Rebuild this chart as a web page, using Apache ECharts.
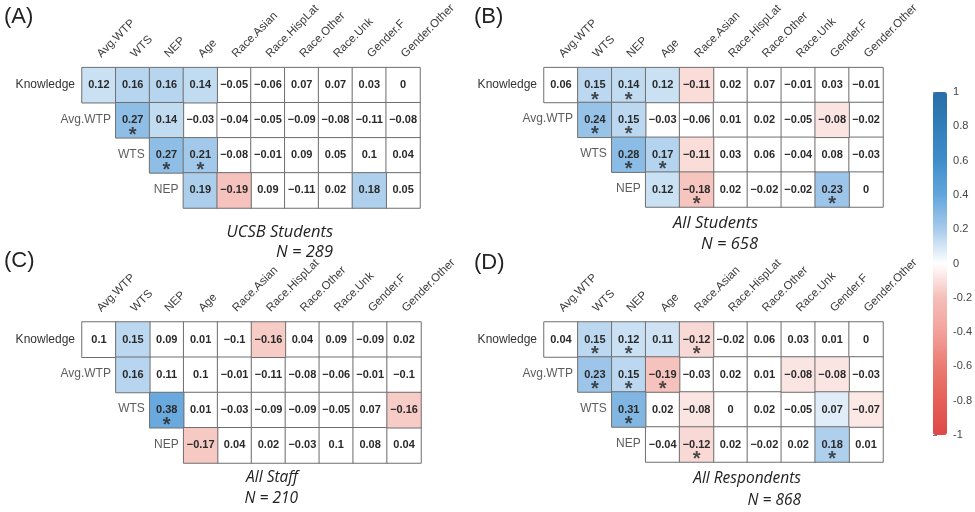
<!DOCTYPE html>
<html><head><meta charset="utf-8">
<script src="https://cdn.jsdelivr.net/npm/echarts@6/dist/echarts.min.js"></script>
<style>html,body{margin:0;padding:0;background:#fff}#c{width:975px;height:512px}</style>
</head><body><div id="c"></div>
<script>
// ---------- data ----------
const rowNames = ['Knowledge', 'Avg.WTP', 'WTS', 'NEP'];
const colNames = ['Avg.WTP', 'WTS', 'NEP', 'Age', 'Race.Asian', 'Race.HispLat', 'Race.Other', 'Race.Unk', 'Gender.F', 'Gender.Other'];
const colorbarTicks = [-1, -0.8, -0.6, -0.4, -0.2, 0, 0.2, 0.4, 0.6, 0.8, 1];

const panelLetters = ['(A)', '(B)', '(C)', '(D)'];
const groupNames = ['UCSB Students', 'All Students', 'All Staff', 'All Respondents'];
const groupSizes = [289, 658, 210, 868];

const valuesA = [
  [0.12, 0.16, 0.16, 0.14, -0.05, -0.06, 0.07, 0.07, 0.03, 0],
  [null, 0.27, 0.14, -0.03, -0.04, -0.05, -0.09, -0.08, -0.11, -0.08],
  [null, null, 0.27, 0.21, -0.08, -0.01, 0.09, 0.05, 0.1, 0.04],
  [null, null, null, 0.19, -0.19, 0.09, -0.11, 0.02, 0.18, 0.05]
];
const shadedA = [[0,0],[0,1],[0,2],[0,3],[1,1],[1,2],[2,2],[2,3],[3,3],[3,4],[3,8]];
const starsA = [[1,1],[2,2],[2,3]];

const valuesB = [
  [0.06, 0.15, 0.14, 0.12, -0.11, 0.02, 0.07, -0.01, 0.03, -0.01],
  [null, 0.24, 0.15, -0.03, -0.06, 0.01, 0.02, -0.05, -0.08, -0.02],
  [null, null, 0.28, 0.17, -0.11, 0.03, 0.06, -0.04, 0.08, -0.03],
  [null, null, null, 0.12, -0.18, 0.02, -0.02, -0.02, 0.23, 0]
];
const shadedB = [[0,1],[0,2],[0,3],[0,4],[1,1],[1,2],[1,8],[2,2],[2,3],[2,4],[3,3],[3,4],[3,8]];
const starsB = [[0,1],[0,2],[1,1],[1,2],[2,2],[2,3],[3,4],[3,8]];

const valuesC = [
  [0.1, 0.15, 0.09, 0.01, -0.1, -0.16, 0.04, 0.09, -0.09, 0.02],
  [null, 0.16, 0.11, 0.1, -0.01, -0.11, -0.08, -0.06, -0.01, -0.1],
  [null, null, 0.38, 0.01, -0.03, -0.09, -0.09, -0.05, 0.07, -0.16],
  [null, null, null, -0.17, 0.04, 0.02, -0.03, 0.1, 0.08, 0.04]
];
const shadedC = [[0,1],[0,5],[1,1],[2,2],[2,9],[3,3]];
const starsC = [[2,2]];

const valuesD = [
  [0.04, 0.15, 0.12, 0.11, -0.12, -0.02, 0.06, 0.03, 0.01, 0],
  [null, 0.23, 0.15, -0.19, -0.03, 0.02, 0.01, -0.08, -0.08, -0.03],
  [null, null, 0.31, 0.02, -0.08, 0, 0.02, -0.05, 0.07, -0.07],
  [null, null, null, -0.04, -0.12, 0.02, -0.02, 0.02, 0.18, 0.01]
];
const shadedD = [[0,1],[0,2],[0,3],[0,4],[1,1],[1,2],[1,3],[1,7],[1,8],[2,2],[2,4],[2,8],[2,9],[3,4],[3,8]];
const starsD = [[0,1],[0,2],[0,4],[1,1],[1,2],[1,3],[2,2],[3,4],[3,8]];

// ---------- layout / style ----------
const FONT = 'Liberation Sans, Arial, sans-serif';
const SUBFONT = 'Open Sans, sans-serif';
const panelData = [
  {values: valuesA, shaded: shadedA, stars: starsA},
  {values: valuesB, shaded: shadedB, stars: starsB},
  {values: valuesC, shaded: shadedC, stars: starsC},
  {values: valuesD, shaded: shadedD, stars: starsD}
];
const gridPos = [
  {left: 82, top: 65, width: 338, height: 143},
  {left: 544, top: 65, width: 339, height: 142},
  {left: 82, top: 322, width: 339, height: 141},
  {left: 544, top: 322, width: 339, height: 140}
];
const letterPos = [{left: 4, top: 6}, {left: 474, top: 6}, {left: 4, top: 250}, {left: 474, top: 252}];
const subPos = [
  {right: 642, top1: 224, top2: 244, size: 16.5},
  {right: 217, top1: 215, top2: 236, size: 16.5},
  {right: 677, top1: 470, top2: 491, size: 15.5},
  {right: 174, top1: 471, top2: 493, size: 15.5}
];

function fmt(v) { return (v < 0 ? '\u2212' : '') + String(Math.abs(v)); }

const grids = [], xAxes = [], yAxes = [], series = [], titles = [];
const shadedSeriesIdx = [];

panelData.forEach((p, i) => {
  grids.push(Object.assign({containLabel: false}, gridPos[i]));
  xAxes.push({
    gridIndex: i, type: 'category', data: colNames, position: 'top',
    axisLine: {show: false}, axisTick: {show: false}, splitLine: {show: false},
    axisLabel: {interval: 0, rotate: -45, margin: 12, fontSize: 11.5, color: '#3a3a3a', fontFamily: FONT}
  });
  yAxes.push({
    gridIndex: i, type: 'category', data: rowNames, inverse: true,
    axisLine: {show: false}, axisTick: {show: false}, splitLine: {show: false},
    axisLabel: {margin: 7, fontSize: 12, color: '#333', fontFamily: FONT,
      formatter: v => (v === rowNames[0] ? v : '')}
  });
  const shadeSet = new Set(p.shaded.map(d => d[0] + '_' + d[1]));
  const shadedCells = [], plainCells = [];
  p.values.forEach((row, r) => row.forEach((v, c) => {
    if (v === null) return;
    (shadeSet.has(r + '_' + c) ? shadedCells : plainCells).push([c, r, v]);
  }));
  const cellLabel = {
    show: true, formatter: d => fmt(d.value[2]), fontSize: 11, fontWeight: 'bold',
    color: '#2a2a2a', fontFamily: FONT
  };
  const cellStyle = {borderColor: '#6f6f6f', borderWidth: 1};
  series.push({
    type: 'heatmap', xAxisIndex: i, yAxisIndex: i, data: plainCells,
    itemStyle: Object.assign({color: '#ffffff'}, cellStyle), label: cellLabel,
    emphasis: {disabled: true}, z: 2
  });
  shadedSeriesIdx.push(series.length);
  series.push({
    type: 'heatmap', xAxisIndex: i, yAxisIndex: i, data: shadedCells,
    itemStyle: cellStyle, label: cellLabel, emphasis: {disabled: true}, z: 2
  });
  // significance stars
  series.push({
    type: 'scatter', xAxisIndex: i, yAxisIndex: i, silent: true, z: 5,
    data: p.stars.map(s => [s[1], s[0]]), symbolSize: 1, itemStyle: {color: 'rgba(0,0,0,0)'},
    label: {show: true, formatter: '*', position: 'inside', offset: [0, 15], fontSize: 20,
      fontWeight: 'bold', color: '#222', fontFamily: FONT}
  });
  // indented row labels
  series.push({
    type: 'scatter', xAxisIndex: i, yAxisIndex: i, silent: true, z: 5,
    data: rowNames.slice(1).map((n, k) => [k, k + 1, n]), symbolSize: 1, itemStyle: {color: 'rgba(0,0,0,0)'},
    label: {show: true, formatter: d => d.value[2], position: 'inside', align: 'right',
      offset: [12, -1], fontSize: 12, color: '#333', fontFamily: FONT}
  });
  titles.push({text: panelLetters[i], left: letterPos[i].left, top: letterPos[i].top, padding: 0,
    textStyle: {fontSize: 22, fontWeight: 'normal', color: '#222', fontFamily: FONT}});
  titles.push({text: groupNames[i], right: subPos[i].right, top: subPos[i].top1, padding: 0,
    textStyle: {fontSize: subPos[i].size, fontStyle: 'italic', fontWeight: 'normal', color: '#222', fontFamily: SUBFONT}});
  titles.push({text: 'N = ' + groupSizes[i], right: subPos[i].right, top: subPos[i].top2, padding: 0,
    textStyle: {fontSize: subPos[i].size, fontStyle: 'italic', fontWeight: 'normal', color: '#222', fontFamily: SUBFONT}});
});

// colorbar axis
grids.push({left: 933, top: 92, width: 14, height: 343});
xAxes.push({gridIndex: 4, type: 'value', show: false});
yAxes.push({
  gridIndex: 4, type: 'value', min: colorbarTicks[0], max: colorbarTicks[colorbarTicks.length - 1],
  interval: 0.2, position: 'right',
  axisLine: {show: false}, splitLine: {show: false},
  axisTick: {show: true, length: 4, lineStyle: {color: '#777'}},
  axisLabel: {margin: 7, fontSize: 11, color: '#444', fontFamily: FONT,
    formatter: v => String(+(+v).toFixed(1))}
});

const option = {
  backgroundColor: '#ffffff',
  animation: false,
  title: titles,
  grid: grids,
  xAxis: xAxes,
  yAxis: yAxes,
  visualMap: {
    type: 'continuous', min: -1, max: 1, seriesIndex: shadedSeriesIdx, dimension: 2,
    orient: 'vertical', left: 933, top: 92, itemWidth: 14, itemHeight: 343, padding: 0,
    calculable: false, text: null, showLabel: false,
    inRange: {color: ['#de4848', '#e55f57', '#eb7b71', '#f2a19a', '#f5bfb9', '#ffffff',
                      '#a6cbeb', '#62a5dc', '#3f8ecb', '#307eba', '#2a6ea6']}
  },
  series: series
};
const chart = echarts.init(document.getElementById('c'));
chart.setOption(option);
</script>
</body></html>
